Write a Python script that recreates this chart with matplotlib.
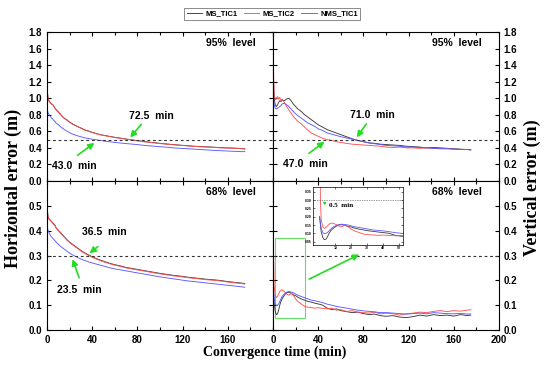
import matplotlib
matplotlib.use("Agg")
import matplotlib.pyplot as plt
from matplotlib.patches import Rectangle
from matplotlib.ticker import MultipleLocator

# Convergence time (min)
t = [0, 0.5, 1, 2, 3, 4, 5, 6, 7, 8, 10, 12, 14, 16, 18, 20, 22, 25, 28, 31, 34, 37, 40, 44,
     48, 52, 56, 60, 65, 70, 75, 80, 85, 90, 95, 100, 106, 112, 118, 124, 130, 136, 142, 148,
     154, 160, 166, 172, 175]

# Horizontal 95%
h95_tic1 = [1.25, 1.06, 0.99, 0.965, 0.945, 0.93, 0.925, 0.905, 0.885, 0.865, 0.835, 0.805, 0.775,
            0.752, 0.735, 0.712, 0.695, 0.672, 0.652, 0.634, 0.614, 0.603, 0.588, 0.572, 0.558,
            0.548, 0.537, 0.528, 0.518, 0.507, 0.497, 0.488, 0.478, 0.47, 0.463, 0.455, 0.447,
            0.44, 0.433, 0.427, 0.42, 0.416, 0.412, 0.408, 0.403, 0.4, 0.397, 0.393, 0.388]
h95_tic2 = [1.22, 1.05, 0.98, 0.96, 0.94, 0.93, 0.92, 0.90, 0.88, 0.86, 0.83, 0.80, 0.77, 0.75,
            0.73, 0.71, 0.69, 0.67, 0.65, 0.63, 0.61, 0.60, 0.585, 0.57, 0.555, 0.545, 0.535,
            0.525, 0.515, 0.505, 0.495, 0.485, 0.475, 0.468, 0.46, 0.452, 0.445, 0.437, 0.43,
            0.425, 0.418, 0.413, 0.41, 0.405, 0.40, 0.398, 0.395, 0.39, 0.385]
h95_nms = [0.95, 0.85, 0.82, 0.80, 0.78, 0.76, 0.75, 0.73, 0.72, 0.70, 0.68, 0.655, 0.635, 0.615,
           0.60, 0.585, 0.57, 0.555, 0.542, 0.53, 0.52, 0.512, 0.505, 0.497, 0.488, 0.48, 0.473,
           0.466, 0.459, 0.452, 0.446, 0.44, 0.432, 0.425, 0.42, 0.414, 0.408, 0.40, 0.395, 0.39,
           0.385, 0.38, 0.375, 0.37, 0.366, 0.362, 0.358, 0.355, 0.355]

# Vertical 95%
v95_tic1 = [1.6, 1.2, 1.0, 0.92, 0.90, 0.92, 0.95, 0.97, 0.96, 0.98, 0.97, 0.99, 1.0, 0.97, 0.93,
            0.90, 0.87, 0.84, 0.80, 0.77, 0.74, 0.71, 0.68, 0.65, 0.62, 0.60, 0.58, 0.56, 0.535,
            0.51, 0.49, 0.475, 0.46, 0.455, 0.445, 0.44, 0.435, 0.43, 0.42, 0.415, 0.41, 0.40,
            0.405, 0.40, 0.395, 0.39, 0.385, 0.38, 0.38]
v95_tic2 = [1.9, 1.3, 1.05, 0.98, 1.0, 1.02, 0.99, 1.01, 0.97, 0.99, 0.95, 0.90, 0.86, 0.82, 0.78,
            0.75, 0.72, 0.69, 0.65, 0.61, 0.58, 0.56, 0.54, 0.515, 0.50, 0.49, 0.475, 0.465, 0.455,
            0.445, 0.44, 0.435, 0.43, 0.425, 0.42, 0.41, 0.405, 0.41, 0.40, 0.40, 0.395, 0.40,
            0.395, 0.39, 0.39, 0.385, 0.38, 0.38, 0.375]
v95_nms = [1.3, 1.0, 0.92, 0.88, 0.87, 0.88, 0.89, 0.90, 0.91, 0.93, 0.94, 0.92, 0.90, 0.87, 0.84,
           0.81, 0.79, 0.76, 0.73, 0.70, 0.68, 0.66, 0.63, 0.61, 0.58, 0.565, 0.55, 0.535, 0.52,
           0.505, 0.49, 0.475, 0.46, 0.45, 0.44, 0.43, 0.425, 0.42, 0.41, 0.41, 0.405, 0.40,
           0.395, 0.39, 0.39, 0.385, 0.38, 0.38, 0.375]

# Horizontal 68%
h68_tic1 = [0.565, 0.475, 0.453, 0.447, 0.443, 0.437, 0.432, 0.427, 0.422, 0.412, 0.402, 0.392,
            0.382, 0.372, 0.362, 0.354, 0.347, 0.337, 0.327, 0.317, 0.309, 0.302, 0.295, 0.287,
            0.28, 0.274, 0.268, 0.263, 0.258, 0.252, 0.248, 0.244, 0.24, 0.236, 0.232, 0.228,
            0.224, 0.22, 0.217, 0.213, 0.21, 0.207, 0.204, 0.202, 0.199, 0.195, 0.192, 0.189, 0.187]
h68_tic2 = [0.56, 0.47, 0.45, 0.445, 0.44, 0.435, 0.43, 0.425, 0.42, 0.41, 0.40, 0.39, 0.38, 0.37,
            0.36, 0.352, 0.345, 0.335, 0.325, 0.315, 0.307, 0.30, 0.293, 0.285, 0.278, 0.272,
            0.266, 0.261, 0.256, 0.25, 0.246, 0.242, 0.238, 0.234, 0.23, 0.226, 0.222, 0.218,
            0.215, 0.211, 0.208, 0.205, 0.202, 0.20, 0.197, 0.193, 0.19, 0.187, 0.185]
h68_nms = [0.45, 0.41, 0.40, 0.39, 0.38, 0.375, 0.37, 0.365, 0.36, 0.355, 0.345, 0.337, 0.33,
           0.323, 0.316, 0.31, 0.304, 0.297, 0.29, 0.284, 0.279, 0.274, 0.27, 0.265, 0.26, 0.255,
           0.25, 0.246, 0.242, 0.238, 0.234, 0.23, 0.226, 0.222, 0.218, 0.214, 0.21, 0.206,
           0.202, 0.198, 0.195, 0.192, 0.189, 0.186, 0.183, 0.18, 0.177, 0.174, 0.172]

# Vertical 68%
v68_tic1 = [0.2, 0.15, 0.11, 0.075, 0.062, 0.065, 0.08, 0.1, 0.115, 0.125, 0.14, 0.15, 0.152,
            0.148, 0.142, 0.138, 0.132, 0.125, 0.12, 0.115, 0.112, 0.108, 0.105, 0.1, 0.088,
            0.082, 0.085, 0.078, 0.074, 0.07, 0.072, 0.066, 0.062, 0.064, 0.058, 0.055, 0.058,
            0.052, 0.05, 0.054, 0.06, 0.056, 0.062, 0.058, 0.06, 0.056, 0.062, 0.058, 0.06]
v68_tic2 = [0.9, 0.30, 0.18, 0.14, 0.13, 0.135, 0.145, 0.155, 0.16, 0.162, 0.155, 0.145, 0.14,
            0.148, 0.14, 0.125, 0.115, 0.105, 0.095, 0.092, 0.09, 0.088, 0.09, 0.087, 0.085,
            0.088, 0.08, 0.082, 0.075, 0.078, 0.072, 0.07, 0.068, 0.072, 0.065, 0.068, 0.066,
            0.06, 0.065, 0.068, 0.072, 0.07, 0.075, 0.078, 0.074, 0.078, 0.076, 0.08, 0.082]
v68_nms = [0.2, 0.16, 0.13, 0.105, 0.098, 0.1, 0.105, 0.115, 0.125, 0.135, 0.145, 0.152, 0.155,
           0.153, 0.15, 0.145, 0.14, 0.135, 0.13, 0.125, 0.12, 0.118, 0.115, 0.11, 0.104, 0.1,
           0.095, 0.092, 0.088, 0.084, 0.08, 0.077, 0.075, 0.073, 0.07, 0.07, 0.068, 0.066,
           0.064, 0.066, 0.068, 0.065, 0.07, 0.068, 0.066, 0.065, 0.067, 0.064, 0.065]

labels = ["MS_TIC1", "MS_TIC2", "NMS_TIC1"]
colors = ["#3a3a3a", "#ff5050", "#5a5aff"]

plt.rcParams["font.family"] = "Liberation Sans"
plt.rcParams["font.weight"] = "bold"

fig = plt.figure(figsize=(5.5, 3.76), dpi=100)
L, W = 47 / 550, 226 / 550
H = 149 / 376
B_top, B_bot = 1 - 181 / 376, 1 - 330 / 376

ax_hl = fig.add_axes([L, B_top, W, H])
ax_vr = fig.add_axes([L + W, B_top, W, H])
ax_hl2 = fig.add_axes([L, B_bot, W, H])
ax_vr2 = fig.add_axes([L + W, B_bot, W, H])

panels = [
    (ax_hl, [h95_tic1, h95_tic2, h95_nms], 1.8, 0.5, "95%  level"),
    (ax_vr, [v95_tic1, v95_tic2, v95_nms], 1.8, 0.5, "95%  level"),
    (ax_hl2, [h68_tic1, h68_tic2, h68_nms], 0.6, 0.3, "68%  level"),
    (ax_vr2, [v68_tic1, v68_tic2, v68_nms], 0.6, 0.3, "68%  level"),
]

lines = []
for ax, series, ytop, thr, lev in panels:
    for s, c, lab in zip(series, colors, labels):
        ln, = ax.plot(t, s, color=c, lw=0.65, label=lab)
        if ax is ax_hl:
            lines.append(ln)
    ax.axhline(thr, color="#333333", lw=0.8, linestyle=(0, (2.5, 2.5)))
    ax.set_xlim(0, 200)
    ax.set_ylim(0, ytop)
    ax.xaxis.set_major_locator(MultipleLocator(40))
    ax.xaxis.set_minor_locator(MultipleLocator(20))
    ax.yaxis.set_major_locator(MultipleLocator(0.2 if ytop > 1 else 0.1))
    ax.tick_params(which="both", direction="in", top=True, right=True, labelsize=7,
                   length=3, width=0.8)
    ax.tick_params(which="minor", length=2)
    for sp in ax.spines.values():
        sp.set_linewidth(0.8)
    ax.text(163, ytop * 0.926, lev, ha="center", va="center", fontsize=7.5, fontweight="bold")

for ax in (ax_hl, ax_vr):
    ax.tick_params(labelbottom=False)
for ax in (ax_vr, ax_vr2):
    ax.tick_params(labelleft=False, labelright=True)

ax_hl.set_yticks([0.0, 0.2, 0.4, 0.6, 0.8, 1.0, 1.2, 1.4, 1.6, 1.8])
ax_vr.set_yticks([0.0, 0.2, 0.4, 0.6, 0.8, 1.0, 1.2, 1.4, 1.6, 1.8])
ax_hl2.set_yticks([0.0, 0.1, 0.2, 0.3, 0.4, 0.5])
ax_vr2.set_yticks([0.0, 0.1, 0.2, 0.3, 0.4, 0.5])
ax_hl2.set_xticks([0, 40, 80, 120, 160])
ax_vr2.set_xticks([0, 40, 80, 120, 160, 200])
for ax in (ax_hl, ax_vr, ax_hl2, ax_vr2):
    ax.yaxis.set_major_formatter(matplotlib.ticker.FormatStrFormatter("%.1f"))

# annotations
arrow = dict(arrowstyle="-|>", color="#22dd22", lw=1.2, mutation_scale=9)
def note(ax, txt, xy, xytext, tail):
    ax.annotate("", xy=xy, xytext=tail, arrowprops=arrow)
    ax.text(xytext[0], xytext[1], txt, ha="center", va="center", fontsize=7.5, fontweight="bold")

note(ax_hl, "72.5  min", (72, 0.5), (92, 0.785), (85, 0.71))
note(ax_hl, "43.0  min", (44, 0.48), (24, 0.18), (25, 0.29))
note(ax_vr, "71.0  min", (72.6, 0.5), (88, 0.80), (84, 0.716))
note(ax_vr, "47.0  min", (47.5, 0.495), (28.5, 0.2), (29.8, 0.314))
note(ax_hl2, "36.5  min", (35.7, 0.302), (50.7, 0.396), (47, 0.343))
note(ax_hl2, "23.5  min", (21.8, 0.296), (28.3, 0.161), (29.2, 0.2))

# zoom box and inset
ax_vr2.add_patch(Rectangle((1.5, 0.047), 27, 0.323, fill=False, ec="#66dd66", lw=0.8))
ax_vr2.annotate("", xy=(78.5, 0.309), xytext=(29.8, 0.2), arrowprops=arrow)

axin = fig.add_axes([313.3 / 550, 1 - 245 / 376, 90 / 550, 58.3 / 376])
for s, c in zip([v68_tic1, v68_tic2, v68_nms], colors):
    axin.plot(t, s, color=c, lw=0.6)
axin.axhline(0.3, color="#333333", lw=0.5, linestyle=(0, (1, 1.5)))
axin.set_xlim(-4, 53)
axin.set_ylim(0.03, 0.38)
axin.set_xticks([10, 20, 30, 40, 50])
axin.set_yticks([0.05, 0.10, 0.15, 0.20, 0.25, 0.30, 0.35])
axin.yaxis.set_major_formatter(matplotlib.ticker.FormatStrFormatter("%.2f"))
axin.tick_params(direction="in", labelsize=2.5, length=1.2, width=0.4, pad=1, top=True, right=True)
for sp in axin.spines.values():
    sp.set_linewidth(0.5)
axin.annotate("", xy=(0.5, 0.30), xytext=(5, 0.27),
              arrowprops=dict(arrowstyle="-|>", color="#22dd22", lw=0.6, mutation_scale=4))
axin.text(6, 0.265, "0.5  min", fontsize=5, fontweight="bold", family="Liberation Serif",
          ha="left", va="center")

# axis titles
fig.text(0.025, 0.5, "Horizontal error (m)", rotation=90, ha="center", va="center",
         fontsize=13, fontweight="bold", family="Liberation Serif")
fig.text(0.968, 0.5, "Vertical error (m)", rotation=90, ha="center", va="center",
         fontsize=13, fontweight="bold", family="Liberation Serif")
fig.text(0.5, 0.064, "Convergence time (min)", ha="center", va="center",
         fontsize=10, fontweight="bold", family="Liberation Serif")

leg = fig.legend(lines, labels, loc="center", bbox_to_anchor=(0.495, 0.963), ncol=3,
                 fontsize=5.5, frameon=True, fancybox=False, edgecolor="#555555",
                 handlelength=2.0, columnspacing=0.8, borderpad=0.3, handletextpad=0.5)
leg.get_frame().set_linewidth(0.6)

fig.savefig("out.png", dpi=100)
